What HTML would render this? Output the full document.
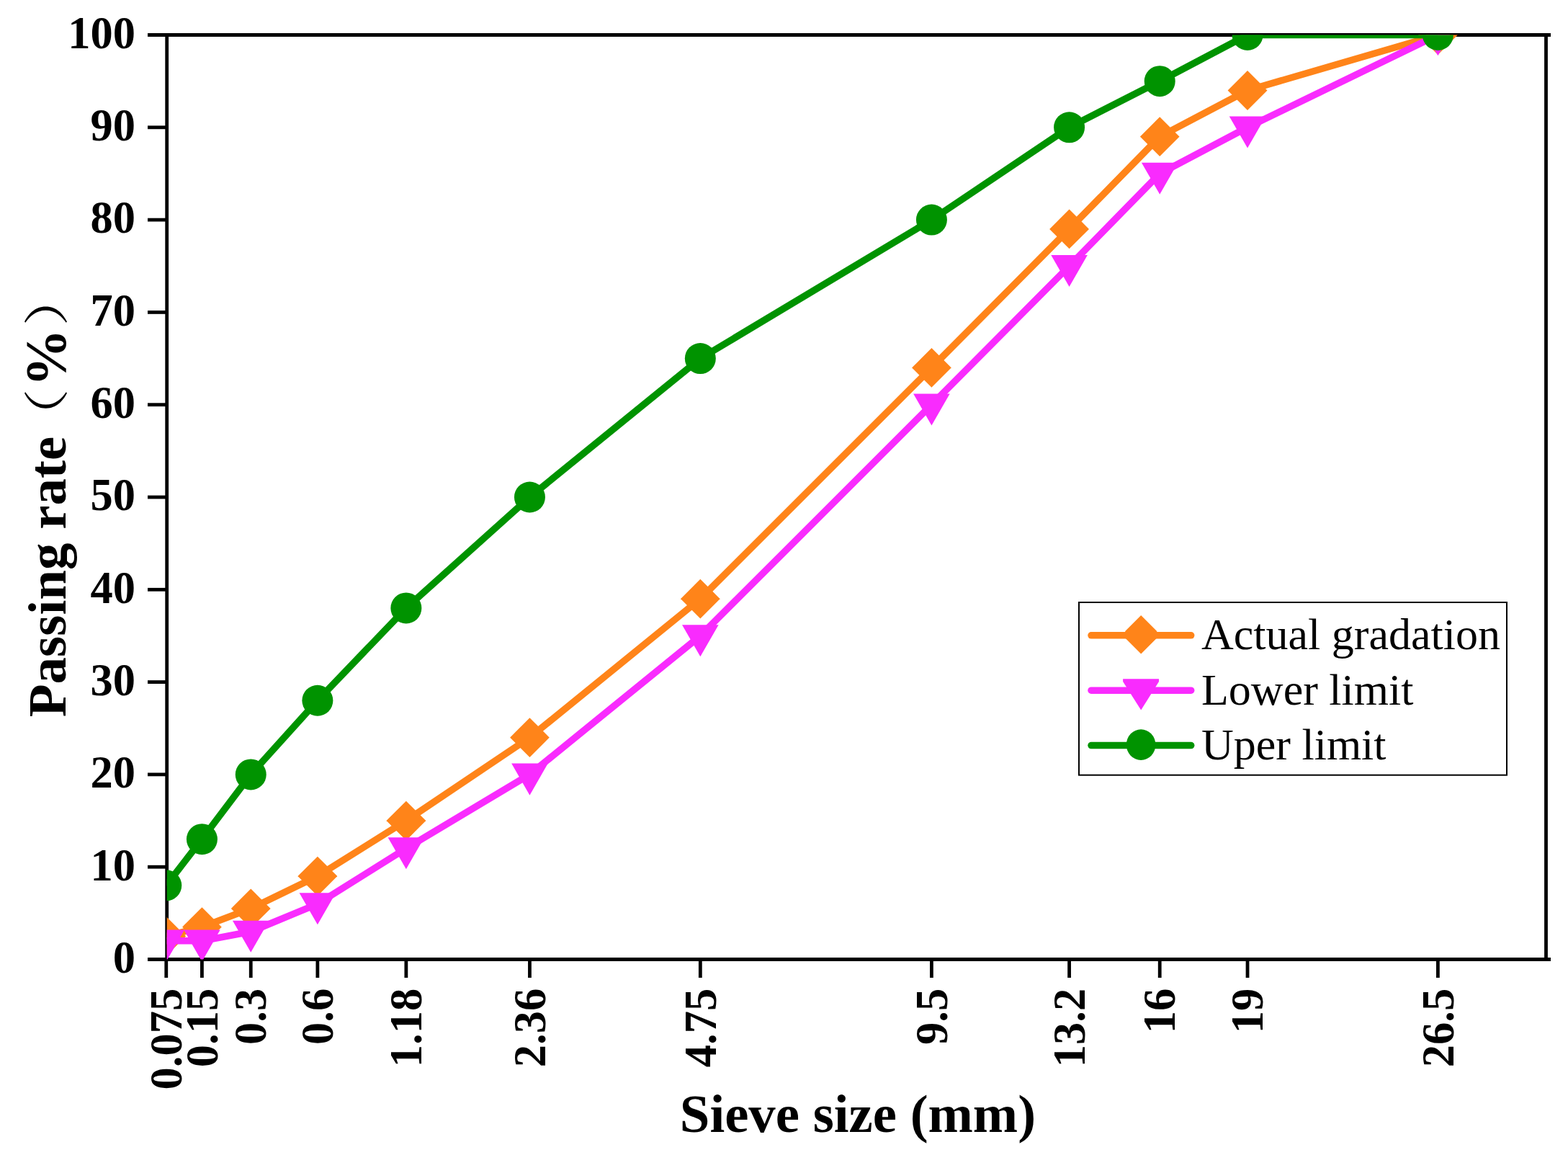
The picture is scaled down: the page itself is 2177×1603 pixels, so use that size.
<!DOCTYPE html><html><head><meta charset="utf-8"><style>html,body{margin:0;padding:0;background:#fff;}svg{display:block;}</style></head><body>
<svg width="2177" height="1603" viewBox="0 0 2177 1603">
<rect width="2177" height="1603" fill="#fff"/>
<defs><clipPath id="pa"><rect x="231.7" y="48.5" width="1914.8" height="1283.0"/></clipPath></defs>
<g stroke="#000" stroke-width="4.8" fill="none">
<path d="M231.7 48.5V1331.5M2146.5 48.5V1331.5M205 48.5H2153M205 1331.5H2153"/>
<path d="M205 1203.2H231.7"/>
<path d="M205 1074.9H231.7"/>
<path d="M205 946.6H231.7"/>
<path d="M205 818.3H231.7"/>
<path d="M205 690H231.7"/>
<path d="M205 561.7H231.7"/>
<path d="M205 433.4H231.7"/>
<path d="M205 305.1H231.7"/>
<path d="M205 176.8H231.7"/>
<path d="M230.77 1331.5V1357"/>
<path d="M280.42 1331.5V1357"/>
<path d="M348.24 1331.5V1357"/>
<path d="M440.88 1331.5V1357"/>
<path d="M563.87 1331.5V1357"/>
<path d="M735.45 1331.5V1357"/>
<path d="M972.33 1331.5V1357"/>
<path d="M1293.41 1331.5V1357"/>
<path d="M1484.57 1331.5V1357"/>
<path d="M1610.21 1331.5V1357"/>
<path d="M1732.03 1331.5V1357"/>
<path d="M1996.39 1331.5V1357"/>
</g>
<g font-family="&quot;Liberation Serif&quot;, &quot;Times New Roman&quot;, serif" font-weight="bold" font-size="62.5" text-anchor="end" fill="#000">
<text x="188.1" y="1349.8">0</text>
<text x="188.1" y="1221.5">10</text>
<text x="188.1" y="1093.2">20</text>
<text x="188.1" y="964.9">30</text>
<text x="188.1" y="836.6">40</text>
<text x="188.1" y="708.3">50</text>
<text x="188.1" y="580">60</text>
<text x="188.1" y="451.7">70</text>
<text x="188.1" y="323.4">80</text>
<text x="188.1" y="195.1">90</text>
<text x="188.1" y="66.8">100</text>
</g>
<g font-family="&quot;Liberation Serif&quot;, &quot;Times New Roman&quot;, serif" font-weight="bold" font-size="62.5" text-anchor="end" fill="#000">
<text transform="translate(251.97 1371.8) rotate(-90)">0.075</text>
<text transform="translate(301.62 1371.8) rotate(-90)">0.15</text>
<text transform="translate(369.44 1371.8) rotate(-90)">0.3</text>
<text transform="translate(462.08 1371.8) rotate(-90)">0.6</text>
<text transform="translate(585.07 1371.8) rotate(-90)">1.18</text>
<text transform="translate(756.65 1371.8) rotate(-90)">2.36</text>
<text transform="translate(993.53 1371.8) rotate(-90)">4.75</text>
<text transform="translate(1314.61 1371.8) rotate(-90)">9.5</text>
<text transform="translate(1505.77 1371.8) rotate(-90)">13.2</text>
<text transform="translate(1631.41 1371.8) rotate(-90)">16</text>
<text transform="translate(1753.23 1371.8) rotate(-90)">19</text>
<text transform="translate(2017.59 1371.8) rotate(-90)">26.5</text>
</g>
<text x="943.8" y="1570.8" font-family="&quot;Liberation Serif&quot;, &quot;Times New Roman&quot;, serif" font-weight="bold" font-size="74.8">Sieve size (mm)</text>
<g transform="translate(90.8 995.3) rotate(-90)" font-size="75" fill="#000"><text font-family="&quot;Liberation Serif&quot;, serif" font-weight="bold">Passing rate</text><text transform="translate(377.2 -4.2) scale(1.25 1)" font-family="&quot;Liberation Serif&quot;, &quot;Noto Serif CJK SC&quot;, serif" font-size="63">（</text><text x="458.75" font-family="&quot;Liberation Serif&quot;, serif" font-weight="bold" font-size="80">%</text><text transform="translate(542.6 -4.2) scale(1.24 1)" font-family="&quot;Liberation Serif&quot;, &quot;Noto Serif CJK SC&quot;, serif" font-size="63">）</text></g>
<g clip-path="url(#pa)">
<polyline points="230.77,1299.42 280.42,1286.6 348.24,1260.93 440.88,1216.03 563.87,1139.05 735.45,1023.58 972.33,831.13 1293.41,510.38 1484.57,317.93 1610.21,189.63 1732.03,125.48 1996.39,48.5" fill="none" stroke="#FF8419" stroke-width="9.5" stroke-linejoin="round"/>
<polygon points="230.77,1272.02 257.97,1299.22 257.97,1299.62 230.77,1326.83 203.57,1299.62 203.57,1299.22" fill="#FF8419"/>
<polygon points="280.42,1259.19 307.62,1286.39 307.62,1286.8 280.42,1314 253.22,1286.8 253.22,1286.39" fill="#FF8419"/>
<polygon points="348.24,1233.53 375.44,1260.73 375.44,1261.13 348.24,1288.34 321.04,1261.13 321.04,1260.73" fill="#FF8419"/>
<polygon points="440.88,1188.63 468.08,1215.83 468.08,1216.23 440.88,1243.43 413.68,1216.23 413.68,1215.83" fill="#FF8419"/>
<polygon points="563.87,1111.65 591.07,1138.85 591.07,1139.25 563.87,1166.45 536.67,1139.25 536.67,1138.85" fill="#FF8419"/>
<polygon points="735.45,996.18 762.65,1023.38 762.65,1023.78 735.45,1050.98 708.25,1023.78 708.25,1023.38" fill="#FF8419"/>
<polygon points="972.33,803.73 999.53,830.93 999.53,831.33 972.33,858.53 945.13,831.33 945.13,830.93" fill="#FF8419"/>
<polygon points="1293.41,482.98 1320.61,510.18 1320.61,510.58 1293.41,537.78 1266.21,510.58 1266.21,510.18" fill="#FF8419"/>
<polygon points="1484.57,290.53 1511.77,317.73 1511.77,318.13 1484.57,345.33 1457.37,318.13 1457.37,317.73" fill="#FF8419"/>
<polygon points="1610.21,162.23 1637.41,189.43 1637.41,189.83 1610.21,217.03 1583.01,189.83 1583.01,189.43" fill="#FF8419"/>
<polygon points="1732.03,98.08 1759.23,125.28 1759.23,125.68 1732.03,152.88 1704.83,125.68 1704.83,125.28" fill="#FF8419"/>
<polygon points="1996.39,21.1 2023.59,48.3 2023.59,48.7 1996.39,75.9 1969.19,48.7 1969.19,48.3" fill="#FF8419"/>
<polyline points="230.77,1305.84 280.42,1305.84 348.24,1293.01 440.88,1254.52 563.87,1177.54 735.45,1074.9 972.33,882.45 1293.41,561.7 1484.57,369.25 1610.21,240.95 1732.03,176.8 1996.39,48.5" fill="none" stroke="#F92BFE" stroke-width="9.5" stroke-linejoin="round"/>
<polygon points="205.47,1290.54 256.07,1290.54 230.77,1334.64" fill="#F92BFE"/>
<polygon points="255.12,1290.54 305.72,1290.54 280.42,1334.64" fill="#F92BFE"/>
<polygon points="322.94,1277.71 373.54,1277.71 348.24,1321.81" fill="#F92BFE"/>
<polygon points="415.58,1239.22 466.18,1239.22 440.88,1283.32" fill="#F92BFE"/>
<polygon points="538.57,1162.24 589.17,1162.24 563.87,1206.34" fill="#F92BFE"/>
<polygon points="710.15,1059.6 760.75,1059.6 735.45,1103.7" fill="#F92BFE"/>
<polygon points="947.03,867.15 997.63,867.15 972.33,911.25" fill="#F92BFE"/>
<polygon points="1268.11,546.4 1318.71,546.4 1293.41,590.5" fill="#F92BFE"/>
<polygon points="1459.27,353.95 1509.87,353.95 1484.57,398.05" fill="#F92BFE"/>
<polygon points="1584.91,225.65 1635.51,225.65 1610.21,269.75" fill="#F92BFE"/>
<polygon points="1706.73,161.5 1757.33,161.5 1732.03,205.6" fill="#F92BFE"/>
<polygon points="1971.09,33.2 2021.69,33.2 1996.39,77.3" fill="#F92BFE"/>
<polyline points="230.77,1228.86 280.42,1164.71 348.24,1074.9 440.88,972.26 563.87,843.96 735.45,690 972.33,497.55 1293.41,305.1 1484.57,176.8 1610.21,112.65 1732.03,48.5 1996.39,48.5" fill="none" stroke="#009300" stroke-width="9.5" stroke-linejoin="round"/>
<circle cx="230.77" cy="1228.86" r="21.5" fill="#009300"/>
<circle cx="280.42" cy="1164.71" r="21.5" fill="#009300"/>
<circle cx="348.24" cy="1074.9" r="21.5" fill="#009300"/>
<circle cx="440.88" cy="972.26" r="21.5" fill="#009300"/>
<circle cx="563.87" cy="843.96" r="21.5" fill="#009300"/>
<circle cx="735.45" cy="690" r="21.5" fill="#009300"/>
<circle cx="972.33" cy="497.55" r="21.5" fill="#009300"/>
<circle cx="1293.41" cy="305.1" r="21.5" fill="#009300"/>
<circle cx="1484.57" cy="176.8" r="21.5" fill="#009300"/>
<circle cx="1610.21" cy="112.65" r="21.5" fill="#009300"/>
<circle cx="1732.03" cy="48.5" r="21.5" fill="#009300"/>
<circle cx="1996.39" cy="48.5" r="21.5" fill="#009300"/>
</g>
<rect x="1498" y="836" width="594" height="239.7" fill="#fff" stroke="#000" stroke-width="2"/>
<path d="M1515 881.8H1653.7" stroke="#FF8419" stroke-width="9.5" stroke-linecap="round"/>
<polygon points="1584.2,854 1606.2,876 1606.2,885.6 1584.2,907.6 1562.2,885.6 1562.2,876" fill="#FF8419"/>
<text x="1668" y="901.2" font-family="&quot;Liberation Serif&quot;, &quot;Times New Roman&quot;, serif" font-size="62">Actual gradation</text>
<path d="M1515 958.2H1653.7" stroke="#F92BFE" stroke-width="9.5" stroke-linecap="round"/>
<polygon points="1559.1,942.2 1609,942.2 1609,946 1584.2,985.6 1559.1,946" fill="#F92BFE"/>
<text x="1668" y="977.6" font-family="&quot;Liberation Serif&quot;, &quot;Times New Roman&quot;, serif" font-size="62">Lower limit</text>
<path d="M1515 1034.6H1653.7" stroke="#009300" stroke-width="9.5" stroke-linecap="round"/>
<ellipse cx="1584.1" cy="1033.6" rx="20.3" ry="21.3" fill="#009300"/>
<text x="1668" y="1054" font-family="&quot;Liberation Serif&quot;, &quot;Times New Roman&quot;, serif" font-size="62">Uper limit</text>
</svg></body></html>
